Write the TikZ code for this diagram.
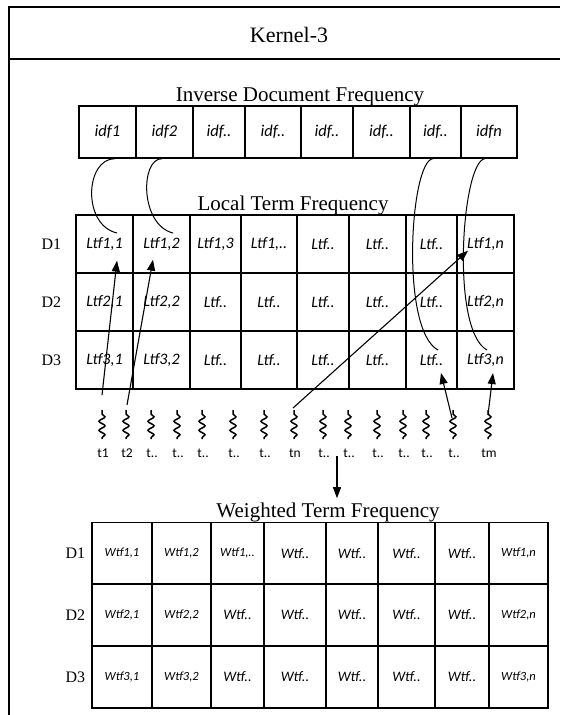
\documentclass[tikz,border=0pt]{standalone}
\usepackage{fontspec}
\setmainfont{Liberation Serif}
\newfontfamily\calib{Carlito}
\usepackage{tikz}
\usetikzlibrary{arrows.meta,calc,positioning,decorations.pathmorphing}
\newcommand\wsm{\fontsize{12.5}{14}\selectfont}

\begin{document}
\begin{tikzpicture}[x=1pt,y=-1pt,
  cell/.style={draw,line width=1.3pt,inner sep=0pt,font=\calib\itshape\fontsize{16}{18}\selectfont},
  hdr/.style={anchor=base,inner sep=0pt,font=\fontsize{21}{24}\selectfont},
  doc/.style={anchor=east,inner sep=0pt,font=\fontsize{16}{18}\selectfont},
  tlab/.style={inner sep=0pt,font=\calib\fontsize{13.5}{15}\selectfont},
  wig/.style={decorate,decoration={snake,amplitude=3pt,segment length=9pt,pre length=4pt,post length=1pt},line width=1.5pt},
  link/.style={line width=1pt},
  arr/.style={-{Triangle[length=11pt,width=8pt]},line width=1.1pt}]
  \useasboundingbox (0,0) rectangle (560,715);
  % frame and title
  \draw[line width=1.8pt] (8.6,715) -- (8.6,7) -- (560,7);
  \draw[line width=1.3pt] (8.6,59) -- (560,59);
  \node[hdr,font=\fontsize{22}{25}\selectfont] (kern) at (289,42) {Kernel-3};
  % inverse document frequency
  \node[hdr] (idfhd) at (300,101) {Inverse Document Frequency};
  \foreach \a/\b/\t [count=\c] in {79/136/idf1,136/193/idf2,193/245/idf..,245/301/idf..,301/353/idf..,353/410/idf..,410/461/idf..,461/517/idfn}
    \node[cell,font=\calib\itshape\fontsize{16.5}{18}\selectfont,minimum width={(\b-\a)*1pt},minimum height=52pt] (idf\c) at ({(\a+\b)/2},132) {\t};
  % local term frequency
  \node[hdr] (ltfhd) at (293,210) {Local Term Frequency};
  \foreach \a/\b/\p/\q/\s [count=\c] in {76/133/{Ltf1,1}/{Ltf2,1}/{Ltf3,1},133/190/{Ltf1,2}/{Ltf2,2}/{Ltf3,2},190/241/{Ltf1,3}/{Ltf..}/{Ltf..},241/297/{Ltf1,..}/{Ltf..}/{Ltf..},297/349/{Ltf..}/{Ltf..}/{Ltf..},349/406/{Ltf..}/{Ltf..}/{Ltf..},406/457/{Ltf..}/{Ltf..}/{Ltf..},457/514/{Ltf1,n}/{Ltf2,n}/{Ltf3,n}} {
    \node[cell,minimum width={(\b-\a)*1pt},minimum height=58pt] (l-1-\c) at ({(\a+\b)/2},244) {\p};
    \node[cell,minimum width={(\b-\a)*1pt},minimum height=58pt] (l-2-\c) at ({(\a+\b)/2},302) {\q};
    \node[cell,minimum width={(\b-\a)*1pt},minimum height=58pt] (l-3-\c) at ({(\a+\b)/2},360) {\s};
  }
  \foreach \r in {1,2,3}
    \node[doc,left=14pt of l-\r-1] (ld\r) {D\r};
  % idf to ltf
  \draw[link] ($(idf1.south)+(7.5,0)$) .. controls +(-30,0) and +(-35,-8) .. ($(l-1-1)+(12.5,-11)$);
  \draw[link] ($(idf2.south)+(-2.5,0)$) .. controls +(-22,0) and +(-33,-8) .. ($(l-1-2)+(11.5,-11)$);
  \draw[link] ($(idf7.south)+(-2.5,0)$) .. controls +(-23,2) and +(-38,-20) .. ($(l-3-7)+(6.5,-10)$);
  \draw[link] ($(idf8.south)+(-4,0)$) .. controls +(-23,2) and +(-37,-20) .. ($(l-3-8)+(1.5,-10)$);
  % terms
  \foreach \x/\t [count=\i] in {102/t1,126/t2,151/t..,177/t..,202/t..,233/t..,264/t..,294/tn,323/t..,348/t..,377/t..,403/t..,426/t..,453/t..,488/tm} {
    \coordinate (s\i) at (\x,410);
    \draw[wig] (s\i) -- (\x,439);
    \node[tlab] (t\i) at (\x+1,453) {\t};
  }
  \draw[arr] ($(s1)+(0,-15)$) -- ($(l-1-1.south)+(12.5,-13)$);
  \draw[arr] ($(s2)+(1,-5)$) -- ($(l-1-2.south)+(-8.5,-14)$);
  \draw[arr] ($(s8)+(-1,-2)$) -- ($(l-1-8.south)+(-17.5,-23)$);
  \draw[arr] ($(s14)+(-1,8)$) -- ($(l-3-7)+(9.5,13)$);
  \draw[arr] ($(s15)+(0,5)$) -- ($(l-3-8)+(7.5,13)$);
  % weighted term frequency
  \node[hdr] (wtfhd) at (328,517) {Weighted Term Frequency};
  \coordinate (dn) at (337,456);
  \draw[arr] (dn) -- ($(dn |- wtfhd.north)+(0,-4)$);
  \foreach \a/\b/\p/\q/\s [count=\c] in {92/152/{\wsm Wtf1,1}/{\wsm Wtf2,1}/{\wsm Wtf3,1},152/211/{\wsm Wtf1,2}/{\wsm Wtf2,2}/{\wsm Wtf3,2},211/264/{\wsm Wtf1,..}/{Wtf..}/{Wtf..},264/326/{Wtf..}/{Wtf..}/{Wtf..},326/378/{Wtf..}/{Wtf..}/{Wtf..},378/435/{Wtf..}/{Wtf..}/{Wtf..},435/489/{Wtf..}/{Wtf..}/{Wtf..},489/548/{\wsm Wtf1,n}/{\wsm Wtf2,n}/{\wsm Wtf3,n}} {
    \node[cell,font=\calib\itshape\fontsize{14.5}{17}\selectfont,minimum width={(\b-\a)*1pt},minimum height=62pt] (w-1-\c) at ({(\a+\b)/2},553.5) {\p};
    \node[cell,font=\calib\itshape\fontsize{14.5}{17}\selectfont,minimum width={(\b-\a)*1pt},minimum height=62pt] (w-2-\c) at ({(\a+\b)/2},615) {\q};
    \node[cell,font=\calib\itshape\fontsize{14.5}{17}\selectfont,minimum width={(\b-\a)*1pt},minimum height=62pt] (w-3-\c) at ({(\a+\b)/2},677) {\s};
  }
  \foreach \r in {1,2,3}
    \node[doc,left=6pt of w-\r-1] (wd\r) {D\r};
\end{tikzpicture}
\end{document}
